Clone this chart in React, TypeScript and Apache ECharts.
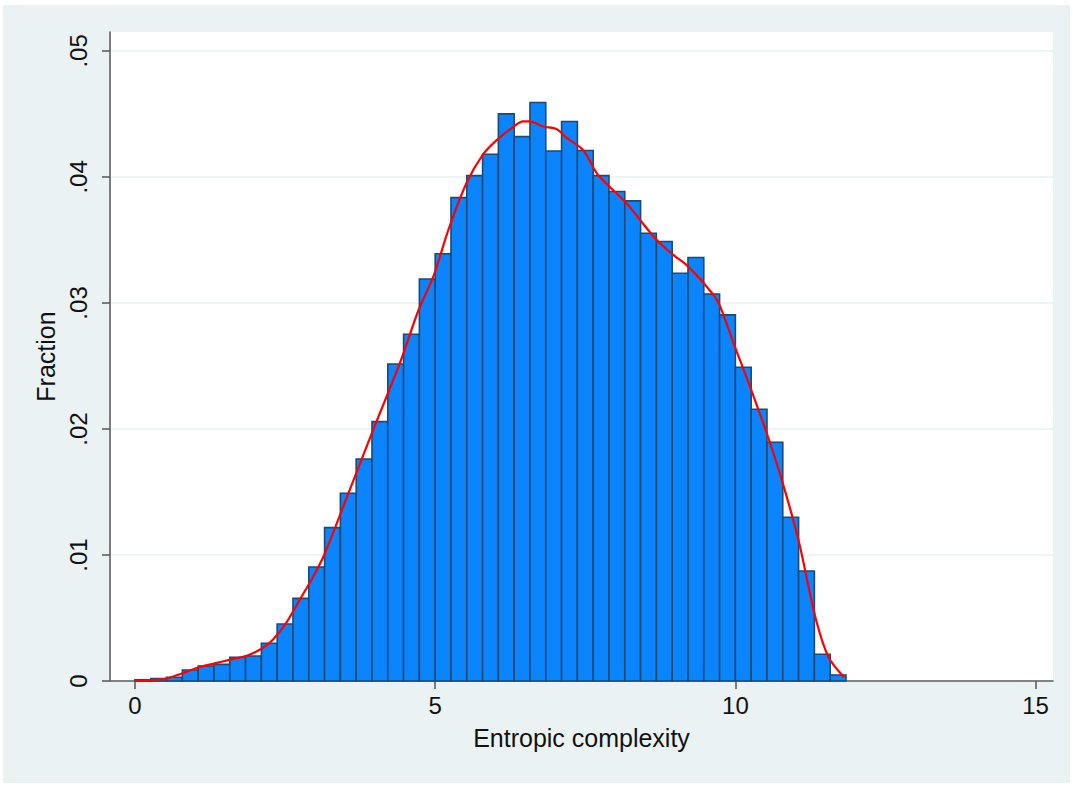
import React, { useEffect, useRef } from "react";
import * as echarts from "echarts";

// Histogram: 45 bins starting at 0, each 5/19 wide
const binStart = 0;
const binWidth = 5 / 19;
const fractions = [
  0.0001, 0.0002, 0.0003, 0.00087, 0.00119, 0.00132, 0.00188, 0.00198, 0.00299, 0.00452,
  0.00656, 0.00905, 0.01217, 0.0149, 0.01762, 0.02058, 0.02516, 0.02751, 0.0319, 0.0339,
  0.03836, 0.0401, 0.0418, 0.045, 0.0432, 0.0459, 0.04206, 0.0444, 0.0421, 0.0401,
  0.03884, 0.0381, 0.03553, 0.03487, 0.03236, 0.0336, 0.03071, 0.02905, 0.0249, 0.02156,
  0.01894, 0.01299, 0.00873, 0.00212, 0.00048,
];

// Kernel density overlay (in fraction units)
const densityX = [
  0, 0.53, 0.78, 1.08, 1.33, 1.59, 1.86, 2.12, 2.3, 2.53, 2.75, 2.97, 3.16, 3.58, 3.99,
  4.41, 4.72, 4.97, 5.22, 5.52, 5.8, 6.02, 6.25, 6.47, 6.58, 6.8, 7.02, 7.19, 7.47, 7.69,
  7.91, 8.19, 8.41, 8.69, 8.97, 9.19, 9.52, 9.72, 9.97, 10.24, 10.52, 10.77, 11.05, 11.33,
  11.55, 11.81,
];
const densityY = [
  0, 0.0002, 0.0006, 0.0011, 0.0014, 0.0017, 0.002, 0.0026, 0.0033, 0.0047, 0.0065, 0.0083,
  0.0101, 0.0152, 0.0202, 0.0252, 0.0294, 0.0321, 0.0358, 0.0395, 0.0418, 0.0429, 0.0438,
  0.0444, 0.0444, 0.044, 0.0438, 0.0431, 0.0421, 0.0403, 0.0392, 0.0379, 0.0366, 0.035,
  0.0338, 0.033, 0.0313, 0.03, 0.0268, 0.0234, 0.0197, 0.016, 0.0112, 0.0051, 0.0019, 0.0003,
];

const xTicks = [0, 5, 10, 15];
const yTicks = [0, 0.01, 0.02, 0.03, 0.04, 0.05];
const xTitle = "Entropic complexity";
const yTitle = "Fraction";

const FONT = '"Liberation Sans", Arial, Helvetica, sans-serif';

export default function App() {
  const ref = useRef<HTMLDivElement>(null);

  useEffect(() => {
    if (!ref.current) return;
    const chart = echarts.init(ref.current, undefined, { renderer: "svg" });

    const histData = fractions.map((f, i) => [
      binStart + i * binWidth,
      binStart + (i + 1) * binWidth,
      f,
    ]);
    const densityData = densityX.map((x, i) => [x, densityY[i]]);

    const yFmt = (v: number) => {
      if (Math.abs(v) < 1e-9) return "0";
      return "." + String(Math.round(v * 100)).padStart(2, "0");
    };

    chart.setOption({
      animation: false,
      backgroundColor: "#eaf2f3",
      textStyle: { fontFamily: FONT },
      grid: {
        left: 107,
        right: 17,
        top: 27,
        bottom: 102,
        show: true,
        backgroundColor: "#ffffff",
        borderWidth: 0,
      },
      xAxis: {
        type: "value",
        min: -0.416,
        max: 15.29,
        name: xTitle,
        nameLocation: "middle",
        nameGap: 44,
        nameTextStyle: { fontSize: 25, color: "#111", fontFamily: FONT },
        axisLine: { show: true, onZero: false, lineStyle: { color: "#5f5f5f", width: 1.6 } },
        axisTick: {
          show: true,
          length: 8,
          customValues: xTicks,
          lineStyle: { color: "#5f5f5f", width: 1.6 },
        },
        axisLabel: {
          customValues: xTicks,
          fontSize: 24,
          color: "#111",
          margin: 12,
          fontFamily: FONT,
        },
        splitLine: { show: false },
      },
      yAxis: {
        type: "value",
        min: 0,
        max: 0.0515,
        name: yTitle,
        nameLocation: "middle",
        nameGap: 50,
        nameRotate: 90,
        nameTextStyle: { fontSize: 25, color: "#111", fontFamily: FONT },
        axisLine: { show: true, onZero: false, lineStyle: { color: "#5f5f5f", width: 1.6 } },
        axisTick: {
          show: true,
          length: 8,
          customValues: yTicks,
          lineStyle: { color: "#5f5f5f", width: 1.6 },
        },
        axisLabel: {
          customValues: yTicks,
          rotate: 90,
          fontSize: 24,
          color: "#111",
          margin: 20,
          formatter: yFmt,
          fontFamily: FONT,
        },
        splitLine: { show: true, lineStyle: { color: "#eaf2f3", width: 1.6 } },
      },
      series: [
        {
          type: "custom",
          data: histData,
          encode: { x: [0, 1], y: 2 },
          z: 2,
          renderItem: (params: any, api: any) => {
            const x0 = api.value(0);
            const x1 = api.value(1);
            const v = api.value(2);
            const p0 = api.coord([x0, v]);
            const p1 = api.coord([x1, 0]);
            return {
              type: "rect",
              shape: { x: p0[0], y: p0[1], width: p1[0] - p0[0], height: p1[1] - p0[1] },
              style: { fill: "#0b84ff", stroke: "#1d4a72", lineWidth: 1.6 },
            };
          },
        },
        {
          type: "line",
          data: densityData,
          showSymbol: false,
          symbol: "none",
          smooth: 0.3,
          z: 5,
          lineStyle: { color: "#ff0000", width: 2.2 },
        },
      ],
    });

    return () => chart.dispose();
  }, []);

  return (
    <div
      style={{
        position: "fixed",
        left: 0,
        top: 0,
        width: 1073,
        height: 787,
        background: "#ffffff",
      }}
    >
      <div
        ref={ref}
        style={{ position: "absolute", left: 3, top: 5, width: 1067, height: 778 }}
      />
    </div>
  );
}
